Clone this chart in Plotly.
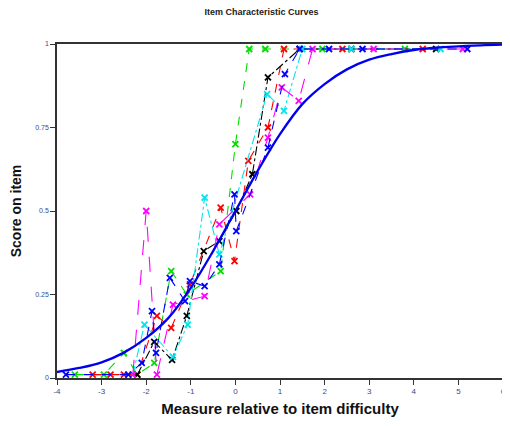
import plotly.graph_objects as go

# Model ICC
model_x = [-4, -3.5, -3, -2.5, -2, -1.5, -1, -0.5, 0, 0.5, 1, 1.5, 2, 2.5, 3, 3.5, 4, 4.5, 5, 5.5, 6]
model_y = [0.018, 0.03, 0.047, 0.076, 0.12, 0.18, 0.27, 0.38, 0.5, 0.62, 0.73, 0.82, 0.88, 0.924, 0.953, 0.97, 0.982, 0.989, 0.993, 0.996, 0.998]

green_x = [-3.6, -2.95, -2.5, -2.2, -1.82, -1.44, -1.09, -0.33, 0.0, 0.31, 0.67, 1.95, 3.8]
green_y = [0.01, 0.01, 0.075, 0.01, 0.045, 0.32, 0.25, 0.32, 0.70, 0.985, 0.985, 0.985, 0.985]

red_x = [-3.2, -2.8, -2.5, -2.2, -1.76, -1.44, -1.02, -0.33, -0.02, 0.29, 0.73, 1.09, 2.4, 4.2]
red_y = [0.01, 0.01, 0.01, 0.01, 0.186, 0.15, 0.28, 0.51, 0.35, 0.65, 0.75, 0.985, 0.985, 0.985]

black_x = [-2.2, -1.82, -1.42, -1.09, -0.71, -0.36, 0.02, 0.38, 0.73, 1.44, 2.6, 4.5]
black_y = [0.01, 0.108, 0.054, 0.186, 0.38, 0.41, 0.50, 0.61, 0.90, 0.985, 0.985, 0.985]

cyan_x = [-2.3, -2.04, -1.4, -1.07, -0.69, -0.36, 0.71, 1.09, 1.5, 2.6, 4.6]
cyan_y = [0.01, 0.16, 0.063, 0.16, 0.54, 0.37, 0.85, 0.80, 0.985, 0.985, 0.985]

magenta_x = [-2.3, -2.0, -1.76, -1.4, -0.69, -0.36, 0.33, 0.73, 1.04, 1.42, 1.73, 3.1, 5.1]
magenta_y = [0.01, 0.50, 0.01, 0.22, 0.245, 0.46, 0.55, 0.72, 0.87, 0.83, 0.985, 0.985, 0.985]

blue_x = [-3.8, -2.4, -2.1, -1.87, -1.78, -1.47, -1.13, -1.02, -0.69, -0.36, -0.02, 0.02, 0.73, 1.11, 1.44, 2.1, 2.85, 5.2]
blue_y = [0.01, 0.01, 0.045, 0.20, 0.075, 0.30, 0.23, 0.29, 0.275, 0.34, 0.55, 0.44, 0.69, 0.91, 0.985, 0.985, 0.985, 0.985]

x_ticks = [-4, -3, -2, -1, 0, 1, 2, 3, 4, 5, 6]
y_ticks = [0, 0.25, 0.5, 0.75, 1]
y_tick_text = ["0", "0.25", "0.5", "0.75", "1"]

series = [
    (green_x, green_y, "#00dd00", "dash"),
    (red_x, red_y, "#ff0000", "dash"),
    (black_x, black_y, "#000000", "dashdot"),
    (cyan_x, cyan_y, "#00e5ee", "dashdot"),
    (magenta_x, magenta_y, "#ff00ff", "longdash"),
    (blue_x, blue_y, "#0000ff", "dash"),
]

fig = go.Figure()
for xs, ys, col, dash in series:
    fig.add_trace(go.Scatter(
        x=xs, y=ys, mode="lines+markers",
        line=dict(color=col, width=1.1, dash=dash),
        marker=dict(symbol="x-thin", size=6, color=col, line=dict(color=col, width=1.8)),
        cliponaxis=False, showlegend=False,
    ))

fig.add_trace(go.Scatter(
    x=model_x, y=model_y, mode="lines",
    line=dict(color="#0000ee", width=2.3, shape="spline"),
    cliponaxis=False, showlegend=False,
))

fig.update_layout(
    width=502, height=418,
    margin=dict(l=49, r=4, t=36, b=48),
    paper_bgcolor="white", plot_bgcolor="white",
    font=dict(family="Liberation Sans, Arial, sans-serif", color="#000"),
    title=dict(text="<b>Item Characteristic Curves</b>", x=0.505, xanchor="center",
               y=0.99, yanchor="middle", font=dict(size=9, color="#222")),
    xaxis=dict(range=[-4, 6], tickvals=x_ticks, ticktext=[str(v) for v in x_ticks],
               showgrid=False, zeroline=False, showline=True, linecolor="#333", linewidth=1.5,
               mirror=True, ticks="outside", ticklen=5, tickcolor="#333",
               tickfont=dict(size=8, color="#3a4a8a"),
               title=dict(text="<b>Measure relative to item difficulty</b>",
                          font=dict(size=15, color="#111"), standoff=8)),
    yaxis=dict(range=[0, 1], tickvals=y_ticks, ticktext=y_tick_text,
               showgrid=False, zeroline=False, showline=True, linecolor="#333", linewidth=1.5,
               mirror=True, ticks="outside", ticklen=5, tickcolor="#333",
               tickfont=dict(size=7, color="#3a4a8a"),
               title=dict(text="<b>Score on item</b>", font=dict(size=14, color="#111"), standoff=12)),
)

fig.write_html("out.html")
